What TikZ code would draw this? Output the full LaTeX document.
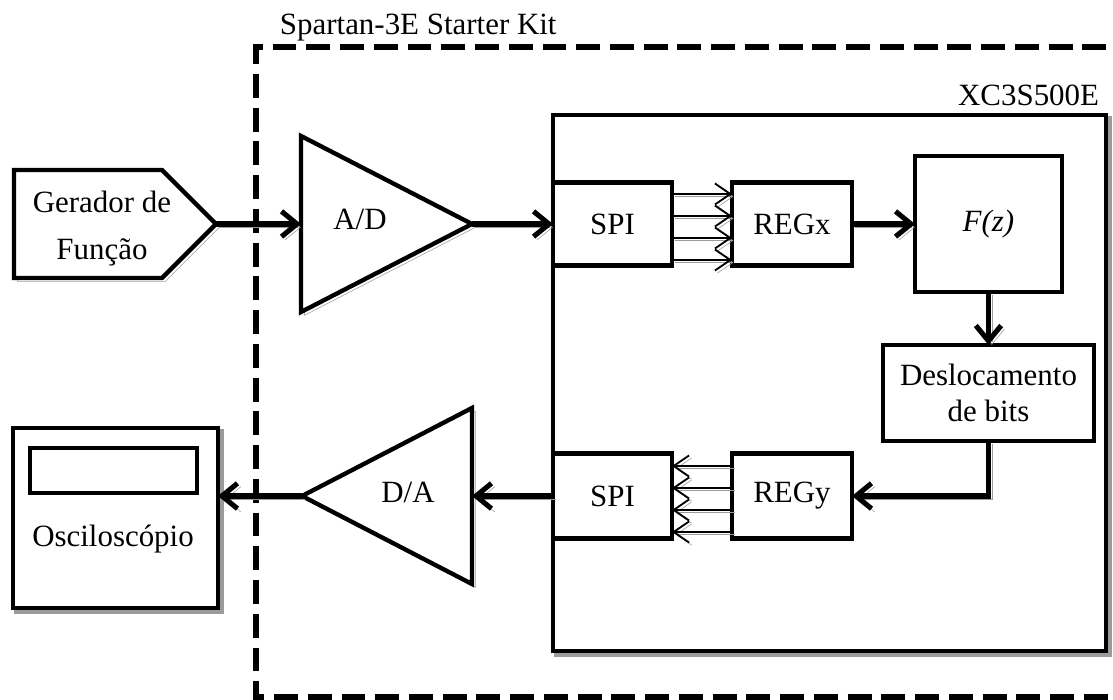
\documentclass[tikz,border=0pt]{standalone}
\usepackage{fontspec}
\setmainfont{Liberation Serif}
\usepackage{tikz}
\usetikzlibrary{arrows.meta, positioning, calc}
\definecolor{shadowgray}{RGB}{155, 155, 155}

\begin{document}
\begin{tikzpicture}[
    font=\fontsize{22}{26}\selectfont,
    sombra/.style={preaction={draw=shadowgray, transform canvas={shift={(2.4pt,-2.4pt)}}}},
    blk/.style={draw, line width=3.1pt, fill=white, inner sep=0pt, outer sep=0pt},
    link/.style={line width=3.6pt, -{Straight Barb[length=11pt,width=18pt]}, sombra},
    bus/.style={line width=1.3pt, -{Straight Barb[length=11pt,width=15pt]},
      preaction={draw=shadowgray, transform canvas={shift={(1.8pt,-1.8pt)}}}},
    kit/.style={line width=3.6pt, dash pattern=on 17pt off 7pt}]
        \useasboundingbox (0,0) rectangle (27.825,17.5);
        % Starter kit frame
        \draw[kit] (28.5,16.325) -- (6.4,16.325) -- (6.4,0.075) -- (28.5,0.075);
        \node[anchor=base west] (kitLbl) at (6.875,16.625) {Spartan-3E Starter Kit};
        % FPGA
        \node[blk, sombra, line width=3.3pt, minimum width=13.825cm, minimum height=13.4cm] (chip) at (20.7375,7.925) {};
        \node[anchor=base east] (chipLbl) at (27.6,14.85) {XC3S500E};
        % Function generator
        \draw[line width=3.1pt, fill=white, sombra] (0.35,13.25) -- (4.05,13.25) -- (5.4,11.9) coordinate (genTip) -- (4.05,10.55) -- (0.35,10.55) -- cycle;
        \node[anchor=base] (genA) at (2.55,12.175) {Gerador de};
        \node[anchor=base] (genB) at (2.55,11.0) {Função};
        % A/D
        \draw[line width=3.1pt, fill=white, sombra] (7.525,14.1) -- (11.8,11.9) coordinate (adOut) -- (7.525,9.7) -- cycle;
        \coordinate (adIn) at (7.525,11.9);
        \node[anchor=base] (adLbl) at (9.0,11.75) {A/D};
        % D/A
        \draw[line width=3.1pt, fill=white, sombra] (11.8,7.3) -- (11.8,2.9) -- (7.55,5.1) coordinate (daOut) -- cycle;
        \coordinate (daIn) at (11.8,5.1);
        \node[anchor=base] (daLbl) at (10.2,4.925) {D/A};
        % Oscilloscope
        \node[blk, sombra, minimum width=5.125cm, minimum height=4.5cm] (osc) at (2.8875,4.55) {};
        \draw[line width=3.1pt] (0.75,6.3) rectangle (4.925,5.175);
        \node[anchor=base] (oscLbl) at (2.825,3.825) {Osciloscópio};
        % Blocks inside the FPGA
        \node[blk, minimum width=2.975cm, minimum height=2.075cm] (spiA) at (15.3125,11.9) {SPI};
        \node[blk, minimum width=3cm, minimum height=2.075cm, right=1.5cm of spiA] (regX) {REGx};
        \node[blk, minimum width=3.675cm, minimum height=3.4cm, right=1.575cm of regX] (fz) {\textit{F(z)}};
        \node[blk, align=center, minimum width=5.275cm, minimum height=2.4cm, below=1.325cm of fz] (desl) {Deslocamento\\de bits};
        \node[blk, minimum width=3cm, minimum height=2.125cm] (regY) at (19.8,5.1) {REGy};
        \node[blk, minimum width=2.975cm, minimum height=2.125cm, left=1.5cm of regY] (spiB) {SPI};
        % Signal path
        \draw[link] (genTip) -- (adIn);
        \draw[link] (adOut) -- (spiA.west);
        \foreach \dy in {0.75,0.2,-0.35,-0.9}
          \draw[bus] ($(spiA.east)+(0,\dy)$) -- ($(regX.west)+(0,\dy)$);
        \draw[link] (regX.east) -- (fz.west);
        \draw[link] (fz.south) -- (desl.north);
        \draw[link] (desl.south) |- (regY.east);
        \foreach \dy in {0.75,0.2,-0.35,-0.9}
          \draw[bus] ($(regY.west)+(0,\dy)$) -- ($(spiB.east)+(0,\dy)$);
        \draw[link] (spiB.west) -- (daIn);
        \draw[link] (daOut) -- (daOut -| osc.east);
\end{tikzpicture}
\end{document}
